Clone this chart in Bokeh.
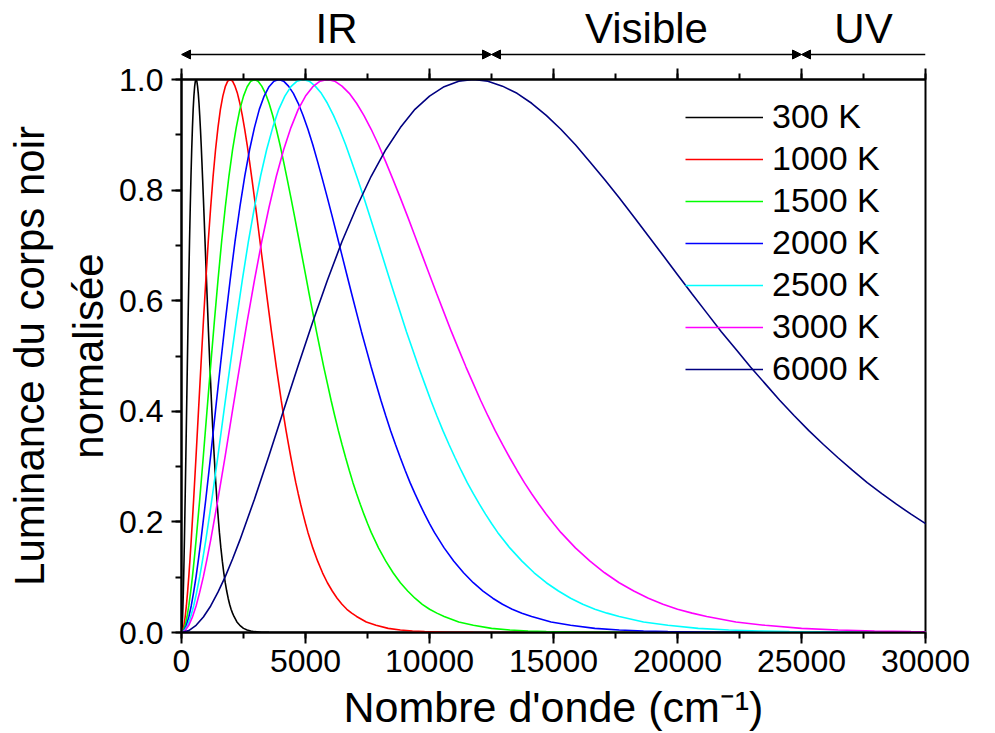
from bokeh.plotting import figure
from bokeh.layouts import column
from bokeh.models import (Range1d, LinearAxis, SingleIntervalTicker, PrintfTickFormatter,
                          CustomJSTickFormatter, Legend, LegendItem, Arrow, NormalHead,
                          ColumnDataSource)
from bokeh.embed import file_html
from bokeh.resources import INLINE
from bokeh.core.properties import value

# ---------------- data ----------------
temperatures = ["300 K", "1000 K", "1500 K", "2000 K", "2500 K", "3000 K", "6000 K"]
peak_wavenumbers = [588, 1961, 2942, 3922, 4903, 5883, 11766]   # cm-1, position of each maximum
colors = ["#000000", "#FF0000", "#00FF00", "#0000FF", "#00FFFF", "#FF00FF", "#000080"]

# common normalised profile: wavenumber / peak wavenumber -> luminance
shape_ratio = [0.0, 0.025, 0.05, 0.075, 0.10, 0.125, 0.15, 0.175, 0.20, 0.25, 0.30, 0.35,
               0.40, 0.45, 0.50, 0.55, 0.60,
               0.65, 0.70, 0.75, 0.80, 0.85, 0.90, 0.95, 1.00, 1.05, 1.10, 1.15, 1.20, 1.25,
               1.30, 1.35, 1.40, 1.45, 1.50, 1.55, 1.60, 1.65, 1.70, 1.75, 1.80, 1.85, 1.90,
               1.95, 2.00, 2.05, 2.10, 2.15, 2.20, 2.25, 2.30, 2.35, 2.40, 2.45, 2.50, 2.55,
               2.60, 2.70, 2.80, 2.90, 3.00, 3.10, 3.20, 3.30, 3.40, 3.50, 3.60, 3.80, 4.00,
               4.25, 4.50, 4.75, 5.00, 5.50, 6.00, 7.00, 8.00, 52.0]
shape_luminance = [0.0, 0.0034, 0.013, 0.028, 0.048, 0.073, 0.101, 0.133, 0.167, 0.241,
                   0.320, 0.402, 0.483, 0.562, 0.637,
                   0.707, 0.769, 0.825, 0.873, 0.913, 0.946, 0.970, 0.987, 0.997, 1.000, 0.997,
                   0.988, 0.975, 0.957, 0.935, 0.910, 0.882, 0.851, 0.819, 0.786, 0.752, 0.717,
                   0.682, 0.647, 0.612, 0.578, 0.544, 0.512, 0.480, 0.450, 0.420, 0.392, 0.365,
                   0.340, 0.316, 0.293, 0.271, 0.251, 0.232, 0.214, 0.197, 0.181, 0.153, 0.129,
                   0.108, 0.090, 0.075, 0.062, 0.051, 0.042, 0.035, 0.029, 0.019, 0.013, 0.0075,
                   0.0044, 0.0026, 0.0015, 0.0005, 0.00015, 0.00001, 0.0, 0.0]

bands = ["IR", "Visible", "UV"]
band_start = [0, 12500, 25000]
band_end = [12500, 25000, 30000]

x_limits = (0, 30000)
y_limits = (0.0, 1.0)

# ---------------- style ----------------
FONT = "Liberation Sans"
W = 995
TOP_H = 60
MAIN_H = 733 - TOP_H
BL, BR = 181, 70

x_range = Range1d(*x_limits)

# ---------------- main plot ----------------
p = figure(width=W, height=MAIN_H, x_range=x_range, y_range=Range1d(*y_limits),
           title=None, output_backend="svg", toolbar_location=None,
           x_axis_type=None, y_axis_type=None,
           min_border_left=BL, min_border_right=BR, min_border_top=79 - TOP_H,
           min_border_bottom=101)
p.outline_line_color = "black"
p.outline_line_width = 2
p.background_fill_color = "white"
p.border_fill_color = "white"


def style_axis(ax):
    ax.axis_line_width = 2
    ax.axis_line_color = "black"
    ax.major_tick_line_width = 2
    ax.minor_tick_line_width = 2
    ax.major_tick_out = 11
    ax.major_tick_in = 0
    ax.minor_tick_out = 6
    ax.minor_tick_in = 0
    ax.major_label_text_font = FONT
    ax.major_label_text_font_size = "32px"
    ax.major_label_text_color = "black"
    ax.axis_label_text_font = FONT
    ax.axis_label_text_font_size = "42px"
    ax.axis_label_text_font_style = "normal"
    ax.axis_label_text_color = "black"


xaxis = LinearAxis(ticker=SingleIntervalTicker(interval=5000, num_minor_ticks=2),
                   axis_label="Nombre d'onde (cm\u207b\u00b9)")
style_axis(xaxis)
xaxis.axis_label_text_font_size = "43px"
xaxis.major_label_standoff = 6
xaxis.axis_label_standoff = 8
p.add_layout(xaxis, "below")

topaxis = LinearAxis(ticker=SingleIntervalTicker(interval=5000, num_minor_ticks=2),
                     formatter=CustomJSTickFormatter(code="return ''"))
style_axis(topaxis)
topaxis.major_label_standoff = 0
p.add_layout(topaxis, "above")

yaxis = LinearAxis(ticker=SingleIntervalTicker(interval=0.2, num_minor_ticks=2),
                   formatter=PrintfTickFormatter(format="%.1f"),
                   axis_label="Luminance du corps noir\nnormalis\u00e9e")
style_axis(yaxis)
yaxis.major_tick_out = 10
yaxis.major_label_standoff = 8
yaxis.axis_label_standoff = 4
yaxis.axis_label_text_line_height = 1.26
p.add_layout(yaxis, "left")

items = []
for name, peak, col in zip(temperatures, peak_wavenumbers, colors):
    src = ColumnDataSource(dict(x=[r * peak for r in shape_ratio], y=shape_luminance))
    r = p.line("x", "y", source=src, line_color=col, line_width=1.6)
    items.append(LegendItem(label=name, renderers=[r]))

legend = Legend(items=items, location="top_right")
legend.border_line_color = None
legend.background_fill_alpha = 0
legend.label_text_font = FONT
legend.label_text_font_size = "34px"
legend.label_text_color = "black"
legend.glyph_width = 78
legend.glyph_height = 20
legend.label_standoff = 9
legend.label_width = 135
legend.label_height = 20
legend.spacing = 3
legend.margin = 18
legend.padding = 8
p.add_layout(legend, "center")

# ---------------- spectral regions above ----------------
top = figure(width=W, height=TOP_H, x_range=x_range, y_range=Range1d(0, TOP_H),
             title=None, output_backend="svg", toolbar_location=None,
             x_axis_type=None, y_axis_type=None,
             min_border_left=BL, min_border_right=BR, min_border_top=0, min_border_bottom=0)
top.outline_line_color = None
top.background_fill_color = "white"
top.border_fill_color = "white"

ARROW_Y = TOP_H - 54   # pixel row of the arrows in the page
LABEL_Y = TOP_H - 28   # pixel row of the band names
for i, (s, e) in enumerate(zip(band_start, band_end)):
    start_head = NormalHead(size=9, fill_color="black", line_color="black", line_width=1)
    end_head = None
    if i < len(bands) - 1:
        end_head = NormalHead(size=9, fill_color="black", line_color="black", line_width=1)
    top.add_layout(Arrow(x_start=s, y_start=ARROW_Y, x_end=e, y_end=ARROW_Y,
                         start=start_head, end=end_head,
                         line_color="black", line_width=1.5))

top.text(x=[(s + e) / 2 for s, e in zip(band_start, band_end)], y=[LABEL_Y] * len(bands),
         text=bands, text_font=value(FONT), text_font_size="42px", text_color="black",
         text_align="center", text_baseline="middle")

layout = column(top, p, spacing=0)
open("out.html", "w").write(file_html(layout, INLINE))
